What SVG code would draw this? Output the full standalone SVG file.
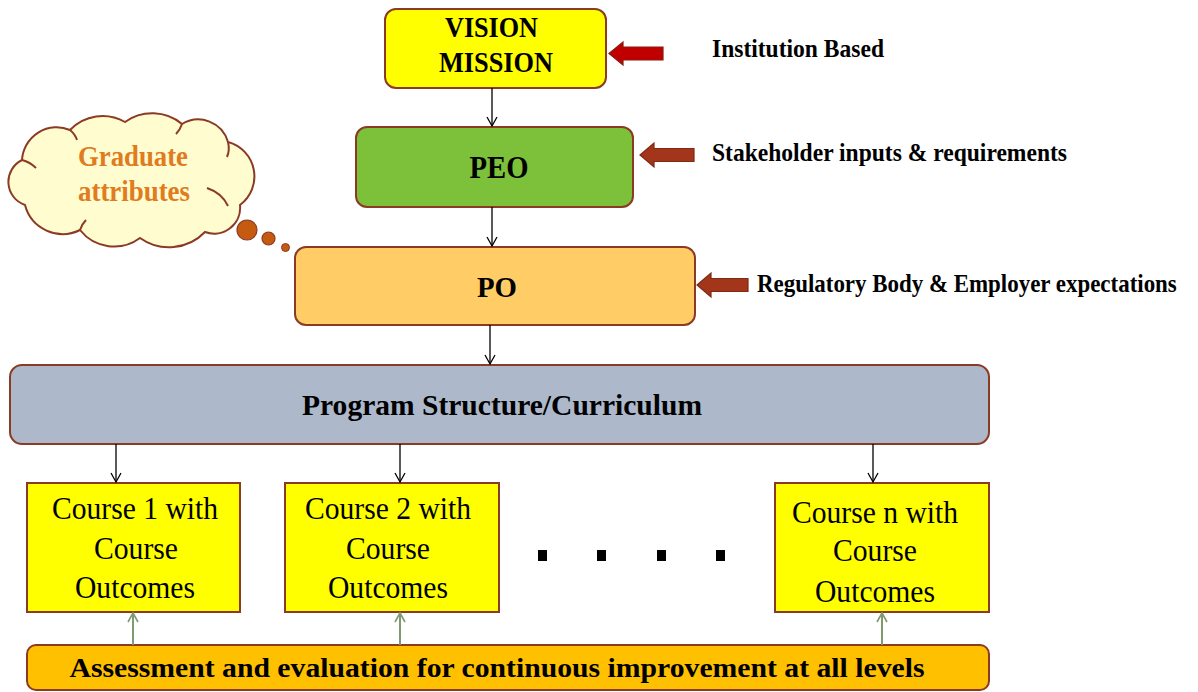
<svg xmlns="http://www.w3.org/2000/svg" width="1198" height="692" viewBox="0 0 1198 692">
<defs>
<marker id="ah" markerWidth="12" markerHeight="12" refX="10" refY="6" orient="auto" markerUnits="userSpaceOnUse">
<path d="M1,1 L10,6 L1,11" fill="none" stroke="#000" stroke-width="1.3"/>
</marker>
<marker id="ahg" markerWidth="12" markerHeight="12" refX="10" refY="6" orient="auto" markerUnits="userSpaceOnUse">
<path d="M1,1 L10,6 L1,11" fill="none" stroke="#7F9A6F" stroke-width="1.6"/>
</marker>
</defs>
<style>
.box{stroke:#8B3A24;stroke-width:2}
.b{font-family:"Liberation Serif","Times New Roman",serif;font-weight:bold;fill:#000}
.r{font-family:"Liberation Serif","Times New Roman",serif;fill:#000}
.conn{stroke:#000;stroke-width:1.3;fill:none}
.connG{stroke:#7F9A6F;stroke-width:2;fill:none}
.blk{stroke-width:1.2}
.cl{fill:none;stroke:#8B3A24;stroke-width:2}
.or{fill:#E07B20}
</style>
<rect width="1198" height="692" fill="#fff"/>

<g id="cloud">
<path d="M22 160 A34.6 34.6 0 0 1 70 130 A45 45 0 0 1 125 122 A47 47 0 0 1 182 124 A31 31 0 0 1 228 142 A35.6 35.6 0 0 1 240 205 A26 26 0 0 1 205 232 A50 50 0 0 1 140 238 A43.5 43.5 0 0 1 80 230 A39 39 0 0 1 25 205 A24.4 24.4 0 0 1 22 160 Z" fill="#FFFCCF" stroke="#8B3A24" stroke-width="2"/>
<path class="cl" d="M22 160 Q30 162 36 168"/>
<path class="cl" d="M70 130 Q75 134 77 140"/>
<path class="cl" d="M182 124 Q180 130 176 134"/>
<path class="cl" d="M228 142 Q230 150 227 157"/>
<path class="cl" d="M207 188 Q222 193 228 206"/>
<path class="cl" d="M80 230 Q82 224 86 220"/>
<text class="b or" x="133" y="166" text-anchor="middle" font-size="30" textLength="110" lengthAdjust="spacingAndGlyphs">Graduate</text>
<text class="b or" x="134" y="201" text-anchor="middle" font-size="30" textLength="112" lengthAdjust="spacingAndGlyphs">attributes</text>
<circle cx="247" cy="230" r="10" fill="#C55A11" stroke="#8B3A24" stroke-width="1.2"/>
<circle cx="268.5" cy="238.5" r="6.5" fill="#C55A11" stroke="#8B3A24" stroke-width="1.2"/>
<circle cx="285.5" cy="247.5" r="4" fill="#C55A11" stroke="#8B3A24" stroke-width="1"/>
</g>

<g id="vision">
<rect class="box" x="385" y="9" width="221" height="79" rx="11" fill="#FFFF00"/>
<text class="b" x="491.5" y="37" text-anchor="middle" font-size="29" textLength="93" lengthAdjust="spacingAndGlyphs">VISION</text>
<text class="b" x="496" y="72" text-anchor="middle" font-size="30" textLength="114" lengthAdjust="spacingAndGlyphs">MISSION</text>
</g>

<g id="peo">
<rect class="box" x="356" y="127" width="277" height="80" rx="11" fill="#7DC13A"/>
<text class="b" x="499" y="178" text-anchor="middle" font-size="31" textLength="59" lengthAdjust="spacingAndGlyphs">PEO</text>
</g>

<g id="po">
<rect class="box" x="295" y="247" width="400" height="78" rx="11" fill="#FFCC66"/>
<text class="b" x="497" y="297" text-anchor="middle" font-size="30" textLength="40" lengthAdjust="spacingAndGlyphs">PO</text>
</g>

<g id="program">
<rect class="box" x="10" y="365" width="979" height="79" rx="12" fill="#ADB9CA"/>
<text class="b" x="502" y="415" text-anchor="middle" font-size="30" textLength="400" lengthAdjust="spacingAndGlyphs">Program Structure/Curriculum</text>
</g>

<g id="course1">
<rect class="box" x="27" y="483" width="213" height="129" fill="#FFFF00"/>
<text class="r" x="135" y="519" text-anchor="middle" font-size="31" textLength="166" lengthAdjust="spacingAndGlyphs">Course 1 with</text>
<text class="r" x="136" y="559" text-anchor="middle" font-size="31" textLength="84" lengthAdjust="spacingAndGlyphs">Course</text>
<text class="r" x="135" y="598" text-anchor="middle" font-size="31" textLength="120" lengthAdjust="spacingAndGlyphs">Outcomes</text>
</g>

<g id="course2">
<rect class="box" x="285" y="483" width="214" height="129" fill="#FFFF00"/>
<text class="r" x="388" y="519" text-anchor="middle" font-size="31" textLength="166" lengthAdjust="spacingAndGlyphs">Course 2 with</text>
<text class="r" x="388" y="559" text-anchor="middle" font-size="31" textLength="84" lengthAdjust="spacingAndGlyphs">Course</text>
<text class="r" x="388" y="598" text-anchor="middle" font-size="31" textLength="120" lengthAdjust="spacingAndGlyphs">Outcomes</text>
</g>

<g id="coursen">
<rect class="box" x="775" y="483" width="214" height="129" fill="#FFFF00"/>
<text class="r" x="875" y="523" text-anchor="middle" font-size="31" textLength="166" lengthAdjust="spacingAndGlyphs">Course n with</text>
<text class="r" x="875" y="561" text-anchor="middle" font-size="31" textLength="84" lengthAdjust="spacingAndGlyphs">Course</text>
<text class="r" x="875" y="602" text-anchor="middle" font-size="31" textLength="120" lengthAdjust="spacingAndGlyphs">Outcomes</text>
</g>

<g id="ellipsis" fill="#000">
<rect x="538" y="550" width="9" height="11"/>
<rect x="597" y="550" width="9" height="11"/>
<rect x="657" y="550" width="9" height="11"/>
<rect x="716" y="550" width="9" height="11"/>
</g>

<g id="assessment">
<rect class="box" x="27" y="645" width="962" height="45" rx="9" fill="#FFC000"/>
<text class="b" x="497" y="677" text-anchor="middle" font-size="28" textLength="855" lengthAdjust="spacingAndGlyphs">Assessment and evaluation for continuous improvement at all levels</text>
</g>

<g id="label-institution">
<path class="blk" d="M609 53.5 L623 42 L623 47 L663 47 L663 60 L623 60 L623 65 Z" fill="#C00000" stroke="#8B1A10"/>
<text class="b" x="712" y="57" font-size="26" textLength="172" lengthAdjust="spacingAndGlyphs">Institution Based</text>
</g>

<g id="label-stakeholder">
<path class="blk" d="M640 155 L654 143 L654 148.5 L694 148.5 L694 161.5 L654 161.5 L654 167 Z" fill="#A3361A" stroke="#7F2A14"/>
<text class="b" x="712" y="161" font-size="26" textLength="355" lengthAdjust="spacingAndGlyphs">Stakeholder inputs &amp; requirements</text>
</g>

<g id="label-regulatory">
<path class="blk" d="M697 285 L711 273 L711 278.5 L748 278.5 L748 291.5 L711 291.5 L711 297 Z" fill="#A3361A" stroke="#7F2A14"/>
<text class="b" transform="translate(757 292) scale(0.88 1)" x="0" y="0" font-size="26" textLength="477" lengthAdjust="spacingAndGlyphs">Regulatory Body &amp; Employer expectations</text>
</g>

<g id="connectors">
<line class="conn" x1="492" y1="88" x2="492" y2="126" marker-end="url(#ah)"/>
<line class="conn" x1="492" y1="207" x2="492" y2="246" marker-end="url(#ah)"/>
<line class="conn" x1="490" y1="325" x2="490" y2="364" marker-end="url(#ah)"/>
<line class="conn" x1="116" y1="444" x2="116" y2="482" marker-end="url(#ah)"/>
<line class="conn" x1="400" y1="444" x2="400" y2="482" marker-end="url(#ah)"/>
<line class="conn" x1="873" y1="444" x2="873" y2="482" marker-end="url(#ah)"/>
<line class="connG" x1="133" y1="645" x2="133" y2="613" marker-end="url(#ahg)"/>
<line class="connG" x1="400" y1="645" x2="400" y2="613" marker-end="url(#ahg)"/>
<line class="connG" x1="882" y1="645" x2="882" y2="613" marker-end="url(#ahg)"/>
</g>
</svg>
